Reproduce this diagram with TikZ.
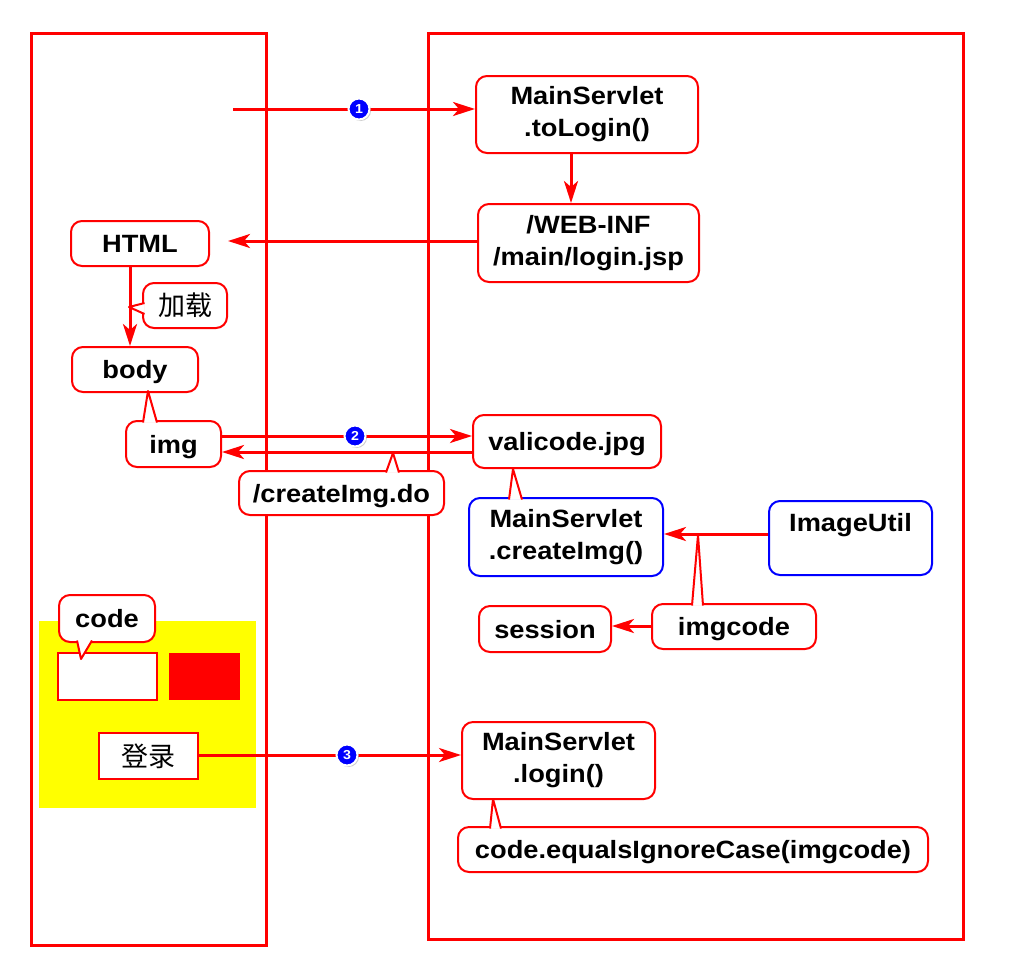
\documentclass[tikz,border=0pt]{standalone}
\usepackage{fontspec}
\setmainfont{Liberation Sans}[FakeStretch=1.09]
\newfontfamily\cjk{Noto Sans CJK SC}
\usetikzlibrary{arrows.meta,shadows}
\definecolor{pred}{RGB}{255,0,0}
\definecolor{pblue}{RGB}{0,0,255}
\definecolor{pyel}{RGB}{255,255,0}
\begin{document}
\begin{tikzpicture}[x=1pt,y=-1pt,
  box/.style={draw=pred, line width=2pt, rounded corners=11pt, fill=white, align=center, inner sep=0pt, font=\bfseries\fontsize{25}{32}\selectfont},
  one/.style={text height=18pt, text depth=0pt},
  bbox/.style={box, draw=pblue},
  cbox/.style={box, text height=21pt, text depth=1pt, font=\cjk\fontsize{27}{30}\selectfont},
  arr/.style={draw=pred, line width=3pt, -{Stealth[length=22pt,width=14pt,inset=6pt]}},
  frame/.style={draw=pred, line width=3pt},
  tail/.style={draw=pred, line width=2pt, fill=white, line join=round},
  num/.style={circle, fill=pblue, draw=white, line width=2pt, minimum size=21pt, inner sep=0pt, text=white, font=\bfseries\fontsize{13}{13}\selectfont, drop shadow={shadow xshift=1.5pt, shadow yshift=-1.5pt, opacity=0.4}}
]
\useasboundingbox (0,0) rectangle (1024,970);
% frames
\draw[frame] (31,33) rectangle (266,945);
\draw[frame] (428,33) rectangle (963,939);
% form area
\fill[pyel] (39,621) rectangle (256,808);
\node[draw=pred, line width=2pt, fill=white, minimum width=99pt, minimum height=47pt, inner sep=0pt] (input) at (107.5,676.5) {};
\node[fill=pred, minimum width=71pt, minimum height=47pt, inner sep=0pt] (btn) at (204.5,676.5) {};
\node[draw=pred, line width=2.5pt, fill=white, minimum width=99pt, minimum height=46pt, inner sep=0pt, text height=21pt, text depth=1pt, font=\cjk\fontsize{27}{30}\selectfont] (denglu) at (148.5,756) {登录};
% boxes
\node[box, minimum width=222pt, minimum height=77pt] (toLogin) at (587,114.5) {MainServlet\\.toLogin()};
\node[box, minimum width=221pt, minimum height=78pt] (webinf) at (588.5,243) {/WEB-INF\\/main/login.jsp};
\node[box, one, minimum width=138pt, minimum height=45pt] (html) at (140,243.5) {HTML};
\node[cbox, minimum width=84pt, minimum height=45pt] (jiazai) at (185,305.5) {加载};
\node[box, one, minimum width=126pt, minimum height=45pt] (body) at (135,369.5) {body};
\node[box, one, minimum width=95pt, minimum height=46pt] (img) at (173.5,444) {img};
\node[box, one, minimum width=205pt, minimum height=44pt] (createdo) at (341.5,493) {/createImg.do};
\node[box, one, minimum width=188pt, minimum height=53pt] (valicode) at (567,441.5) {valicode.jpg};
\node[bbox, minimum width=194pt, minimum height=78pt] (createImg) at (566,537) {MainServlet\\.createImg()};
\node[bbox, minimum width=163pt, minimum height=74pt] (imageutil) at (850.5,538) {ImageUtil\\\mbox{}};
\node[box, one, minimum width=164pt, minimum height=45pt] (imgcode) at (734,626.5) {imgcode};
\node[box, one, minimum width=132pt, minimum height=46pt] (session) at (545,629) {session};
\node[box, one, minimum width=96pt, minimum height=47pt] (code) at (107,618.5) {code};
\node[box, minimum width=193pt, minimum height=77pt] (login) at (558.5,760.5) {MainServlet\\.login()};
\node[box, one, minimum width=470pt, minimum height=45pt] (equals) at (693,849.5) {code.equalsIgnoreCase(imgcode)};
% connectors
\coordinate (s1) at (233,109);
\coordinate (e1) at (228,241);
\draw[arr] (s1) -- (s1 -| toLogin.west);
\draw[arr] (toLogin.south -| 571,0) -- (webinf.north -| 571,0);
\draw[arr] (webinf.west |- e1) -- (e1);
\draw[arr] (html.south -| 130,0) -- (body.north -| 130,0);
\draw[arr] (img.east |- 0,436) -- (valicode.west |- 0,436);
\draw[arr] (valicode.west |- 0,452) -- (img.east |- 0,452);
\draw[arr] (imageutil.west |- 0,534) -- (createImg.east |- 0,534);
\draw[arr] (imgcode.west |- 0,626) -- (session.east |- 0,626);
\draw[arr] (denglu.east |- 0,755) -- (login.west |- 0,755);
% callout pointers
\path[tail] (144.5,303) -- (129,307) -- (144.5,314);
\path[tail] (143,422.5) -- (148,391) -- (157,422.5);
\path[tail] (386,472.5) -- (393,453) -- (399,472.5);
\path[tail] (509,499.5) -- (513,469) -- (522,499.5);
\path[tail] (692,605.5) -- (698,535) -- (703,605.5);
\path[tail] (77,640.5) -- (81,659) -- (92,640.5);
\path[tail] (490,828.5) -- (493,799) -- (501,828.5);
% step markers
\node[num] (c1) at (359,109) {1};
\node[num] (c2) at (355,436) {2};
\node[num] (c3) at (347,755) {3};
\end{tikzpicture}
\end{document}
